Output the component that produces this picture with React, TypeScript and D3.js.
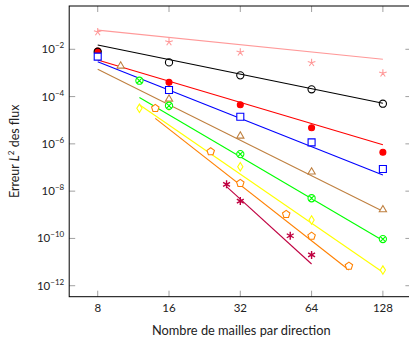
import { useEffect, useRef } from 'react';
import * as d3 from 'd3';

// mesh sizes and L2 flux errors
const xStd     = [8, 16, 32, 64, 128];
const pinkErr  = [5.4e-2, 2.04e-2, 7.5e-3, 2.7e-3, 9.7e-4];
const blackErr = [7.9e-3, 2.8e-3, 7.9e-4, 2.03e-4, 5.0e-5];
const redErr   = [8.5e-3, 4.0e-4, 4.5e-5, 4.8e-6, 4.4e-7];
const blueErr  = [4.9e-3, 1.9e-4, 1.41e-5, 1.16e-6, 8.6e-8];
const brownX   = [10, 16, 32, 64, 128];
const brownErr = [1.97e-3, 7.9e-5, 2.15e-6, 6.5e-8, 1.64e-9];
const greenX   = [12, 16, 32, 64, 128];
const greenErr = [4.7e-4, 4.1e-5, 3.7e-7, 5.0e-9, 9.4e-11];
const yellowX  = [12, 16, 32, 64, 128];
const yellowErr = [3.2e-5, 4.0e-5, 1.08e-7, 6.0e-10, 4.6e-12];
const orangeX  = [14, 24, 32, 50, 64, 92];
const orangeErr = [3.2e-5, 4.7e-7, 2.15e-8, 1.05e-9, 1.26e-10, 6.8e-12];
const purpleX  = [28, 32, 52, 64];
const purpleErr = [1.95e-8, 3.8e-9, 1.30e-10, 2.0e-11];

// slope reference lines: [x0, x1] and [err0, err1]
const pinkFit   = { x: [8, 128], y: [6.5e-2, 3.8e-3] };
const blackFit  = { x: [8, 128], y: [1.52e-2, 5.2e-5] };
const redFit    = { x: [8, 128], y: [3.5e-3, 9.2e-7] };
const blueFit   = { x: [8, 128], y: [3.0e-3, 4.8e-8] };
const brownFit  = { x: [8, 128], y: [1.43e-3, 1.40e-9] };
const greenFit  = { x: [12, 128], y: [9.1e-5, 8.2e-11] };
const yellowFit = { x: [12, 128], y: [4.5e-5, 3.7e-12] };
const orangeFit = { x: [14, 92], y: [1.2e-5, 4.6e-12] };
const purpleFit = { x: [28, 64], y: [1.54e-8, 8.3e-12] };

const xTicks = [8, 16, 32, 64, 128];
const yTicks = [-2, -4, -6, -8, -10, -12];

type Mark = 'star' | 'circle' | 'dot' | 'square' | 'triangle' | 'otimes' | 'diamond' | 'pentagon' | 'asterisk';

const series: { x: number[]; y: number[]; fit: { x: number[]; y: number[] }; color: string; mark: Mark }[] = [
  { x: xStd, y: pinkErr, fit: pinkFit, color: '#ff9999', mark: 'star' },
  { x: xStd, y: redErr, fit: redFit, color: '#ff0000', mark: 'dot' },
  { x: xStd, y: blackErr, fit: blackFit, color: '#000000', mark: 'circle' },
  { x: xStd, y: blueErr, fit: blueFit, color: '#0000ff', mark: 'square' },
  { x: brownX, y: brownErr, fit: brownFit, color: '#bf8040', mark: 'triangle' },
  { x: yellowX, y: yellowErr, fit: yellowFit, color: '#ffff00', mark: 'diamond' },
  { x: greenX, y: greenErr, fit: greenFit, color: '#00ff00', mark: 'otimes' },
  { x: orangeX, y: orangeErr, fit: orangeFit, color: '#ff8000', mark: 'pentagon' },
  { x: purpleX, y: purpleErr, fit: purpleFit, color: '#bf0040', mark: 'asterisk' },
];

function polygon(n: number, r: number, rot = -Math.PI / 2) {
  const pts = d3.range(n).map(i => {
    const a = rot + (i * 2 * Math.PI) / n;
    return `${(r * Math.cos(a)).toFixed(2)},${(r * Math.sin(a)).toFixed(2)}`;
  });
  return 'M' + pts.join('L') + 'Z';
}

function rays(n: number, r: number, rot: number, through: boolean) {
  let p = '';
  for (let i = 0; i < n; i++) {
    const a = rot + (i * (through ? Math.PI : 2 * Math.PI)) / n;
    const x = r * Math.cos(a), y = r * Math.sin(a);
    p += through ? `M${-x},${-y}L${x},${y}` : `M0,0L${x},${y}`;
  }
  return p;
}

export default function App() {
  const svgRef = useRef<SVGSVGElement>(null);

  useEffect(() => {
    if (!svgRef.current) return;
    const W = 409, H = 339;
    const svg = d3.select(svgRef.current).attr('width', W).attr('height', H);
    svg.selectAll('*').remove();

    const left = 69.2, right = 411.4, top = 6, bottom = 296.7;
    const x = d3.scaleLog().base(2)
      .domain([8 * Math.pow(2, -0.4), 128 * Math.pow(2, 0.4)])
      .range([left, right]);
    const y = d3.scaleLog()
      .domain([Math.pow(10, -12.465), Math.pow(10, -0.168)])
      .range([bottom, top]);

    const font = 'Lato, "Open Sans", sans-serif';

    // ticks on all four sides, pointing in
    const tk = svg.append('g').attr('stroke', '#888').attr('stroke-width', 0.8);
    xTicks.forEach(t => {
      tk.append('line').attr('x1', x(t)).attr('x2', x(t)).attr('y1', bottom).attr('y2', bottom - 6);
      tk.append('line').attr('x1', x(t)).attr('x2', x(t)).attr('y1', top).attr('y2', top + 6);
    });
    yTicks.forEach(e => {
      const yy = y(Math.pow(10, e));
      tk.append('line').attr('x1', left).attr('x2', left + 6).attr('y1', yy).attr('y2', yy);
      tk.append('line').attr('x1', right).attr('x2', right - 6).attr('y1', yy).attr('y2', yy);
    });

    const plot = svg.append('g');
    const line = d3.line<[number, number]>().x(d => x(d[0])).y(d => y(d[1]));

    series.forEach(s => {
      plot.append('path')
        .attr('d', line(s.fit.x.map((v, i) => [v, s.fit.y[i]] as [number, number])))
        .attr('fill', 'none').attr('stroke', s.color).attr('stroke-width', 1.1);
    });

    const markPath = (m: Mark) => {
      switch (m) {
        case 'star': return rays(5, 4, -Math.PI / 2, false);
        case 'circle': return d3.symbol(d3.symbolCircle, Math.PI * 3.6 * 3.6)()!;
        case 'dot': return d3.symbol(d3.symbolCircle, Math.PI * 3 * 3)()!;
        case 'square': return d3.symbol(d3.symbolSquare, 7 * 7)()!;
        case 'triangle': return polygon(3, 4.2);
        case 'otimes': return d3.symbol(d3.symbolCircle, Math.PI * 3.6 * 3.6)()! + rays(2, 3.6, Math.PI / 4, true);
        case 'diamond': return 'M0,-4.2L2.6,0L0,4.2L-2.6,0Z';
        case 'pentagon': return polygon(5, 3.9);
        case 'asterisk': return rays(3, 4, -Math.PI / 2, true);
      }
    };

    series.forEach(s => {
      const filled = s.mark === 'dot';
      const hollow = s.mark === 'star' || s.mark === 'asterisk' || s.mark === 'circle';
      plot.append('g').selectAll('path')
        .data(s.x.map((v, i) => [v, s.y[i]]))
        .enter().append('path')
        .attr('transform', d => `translate(${x(d[0])},${y(d[1])})`)
        .attr('d', markPath(s.mark))
        .attr('fill', filled ? s.color : (hollow ? 'none' : '#fff'))
        .attr('stroke', s.color)
        .attr('stroke-width', s.mark === 'asterisk' ? 1.4 : 1.1);
    });

    // frame
    svg.append('rect')
      .attr('x', left).attr('y', top).attr('width', right - left).attr('height', bottom - top)
      .attr('fill', 'none').attr('stroke', '#000').attr('stroke-width', 1);

    // x tick labels
    xTicks.forEach(t => {
      svg.append('text').attr('x', x(t)).attr('y', bottom + 15)
        .attr('text-anchor', 'middle').attr('font-family', font).attr('font-size', 11.5)
        .attr('fill', '#222').text(t);
    });

    // y tick labels 10^e
    yTicks.forEach(e => {
      const t = svg.append('text').attr('x', left - 5).attr('y', y(Math.pow(10, e)) + 4)
        .attr('text-anchor', 'end').attr('font-family', font).attr('font-size', 11.5).attr('fill', '#222');
      t.append('tspan').text('10');
      t.append('tspan').attr('dy', -5).attr('font-size', 8).text(`\u2212${-e}`);
    });

    svg.append('text').attr('x', (97.7 + 382.9) / 2 + 1).attr('y', 335)
      .attr('text-anchor', 'middle').attr('font-family', font).attr('font-size', 12.8)
      .attr('fill', '#222').text('Nombre de mailles par direction');

    const yl = svg.append('text')
      .attr('transform', `translate(19,${(top + bottom) / 2}) rotate(-90)`)
      .attr('text-anchor', 'middle').attr('font-family', font).attr('font-size', 12.5).attr('fill', '#222');
    yl.append('tspan').text('Erreur ');
    yl.append('tspan').attr('font-style', 'italic').text('L');
    yl.append('tspan').attr('dy', -5).attr('font-size', 8).text('2');
    yl.append('tspan').attr('dy', 5).text(' des flux');
  }, []);

  return (
    <div style={{ position: 'fixed', left: 0, top: 0, width: 409, height: 339, background: '#fff' }}>
      <svg ref={svgRef} style={{ display: 'block' }} />
    </div>
  );
}
